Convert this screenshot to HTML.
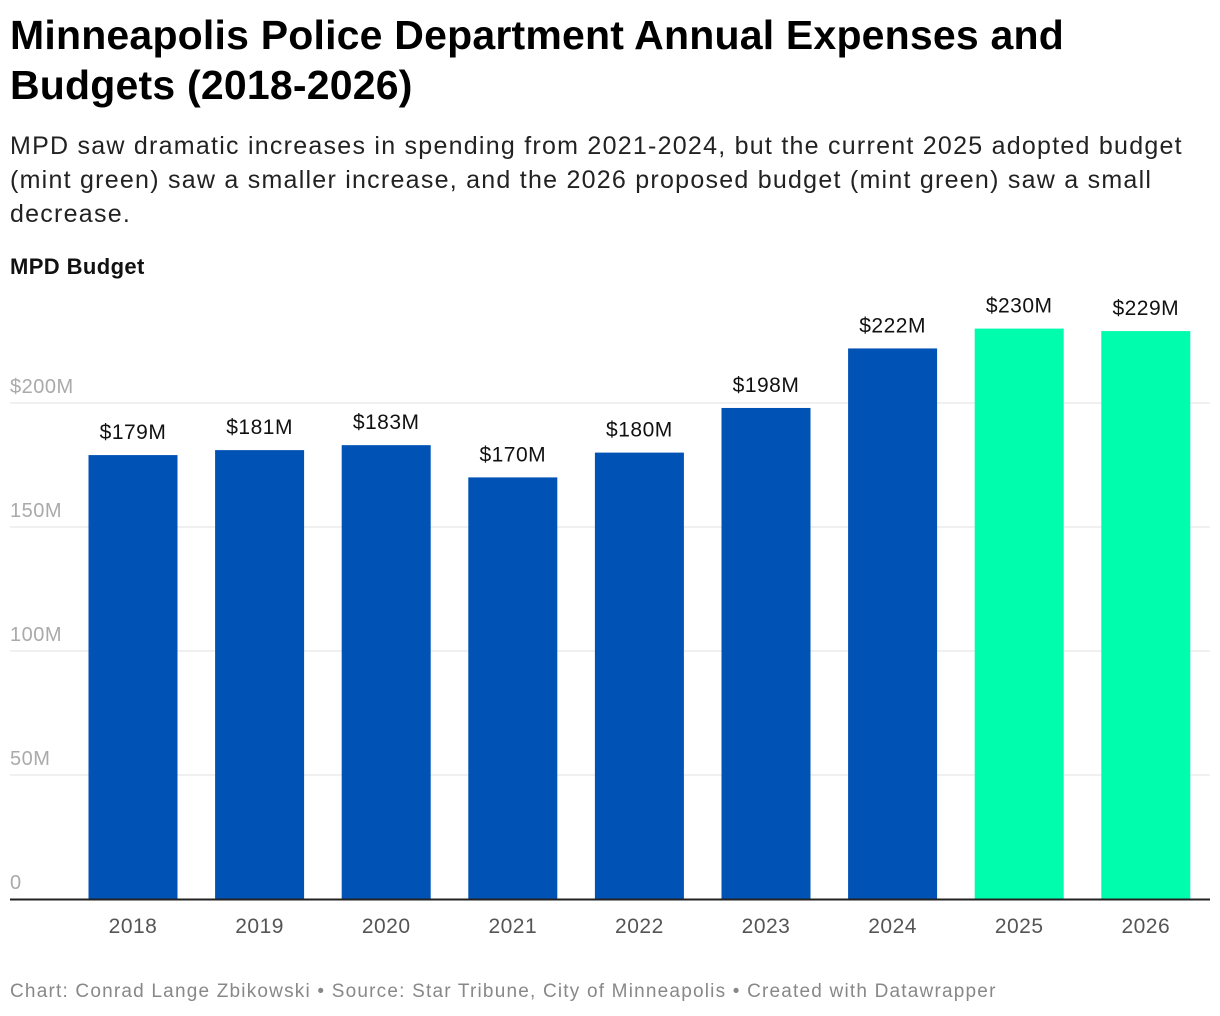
<!DOCTYPE html>
<html><head><meta charset="utf-8"><style>
body{margin:0;background:#fff;font-family:"Liberation Sans",Arial,sans-serif;width:1220px;height:1016px;overflow:hidden;position:relative}
.t{position:absolute;left:10px;margin:0;white-space:nowrap}
</style></head><body>
<h1 class="t" style="top:10px;font-size:41px;line-height:50px;font-weight:bold;color:#000;letter-spacing:0.2px">Minneapolis Police Department Annual Expenses and<br>Budgets (2018-2026)</h1>
<p class="t" style="top:129px;font-size:25px;line-height:34px;color:#222;letter-spacing:1.25px">MPD saw dramatic increases in spending from 2021-2024, but the current 2025 adopted budget<br>(mint green) saw a smaller increase, and the 2026 proposed budget (mint green) saw a small<br>decrease.</p>
<p class="t" style="top:254px;font-size:22px;font-weight:bold;color:#111;letter-spacing:0.4px">MPD Budget</p>
<svg id="chart" width="1220" height="960" style="position:absolute;left:0;top:0"></svg>
<p class="t" style="top:981px;font-size:19px;color:#888;letter-spacing:1.2px">Chart: Conrad Lange Zbikowski • Source: Star Tribune, City of Minneapolis • Created with Datawrapper</p>
<script>
const categories=["2018","2019","2020","2021","2022","2023","2024","2025","2026"];
const values=[179,181,183,170,180,198,222,230,229];
const valueLabels=["$179M","$181M","$183M","$170M","$180M","$198M","$222M","$230M","$229M"];
const highlight=[false,false,false,false,false,false,false,true,true];
const ticks=[0,50,100,150,200];
const tickLabels=["0","50M","100M","150M","$200M"];
const svg=document.getElementById('chart');
const NS="http://www.w3.org/2000/svg";
const y=v=>899-v*2.48;
const x=i=>133+i*126.6;
const bw=89;
function mk(tag,attrs,txt){const e=document.createElementNS(NS,tag);for(const k in attrs)e.setAttribute(k,attrs[k]);if(txt!==undefined)e.textContent=txt;svg.appendChild(e);return e;}
ticks.forEach((t,i)=>{
 if(t>0){const g=mk('line',{x1:10,x2:1210,y1:y(t),y2:y(t),stroke:'#e2e2e2','stroke-width':1});
 
 }
 const l=mk('text',{x:10,y:y(t)-10,'font-size':20,fill:'#aaa','font-family':'Liberation Sans, sans-serif','letter-spacing':0.5},tickLabels[i]);
 
 
});
categories.forEach((c,i)=>{
 const b=mk('rect',{x:x(i)-bw/2,y:y(values[i]),width:bw,height:y(0)-y(values[i]),fill:highlight[i]?'#00fdae':'#0052b4'});
 
 
 const v=mk('text',{x:x(i),y:y(values[i])-16,'font-size':21,fill:'#111','text-anchor':'middle','font-family':'Liberation Sans, sans-serif','letter-spacing':0.5},valueLabels[i]);
 
 
 const t=mk('text',{x:x(i),y:933,'font-size':21,fill:'#555','text-anchor':'middle','font-family':'Liberation Sans, sans-serif','letter-spacing':0.5},c);
 
 
});
const ax=mk('line',{x1:10,x2:1210,y1:899.5,y2:899.5,stroke:'#222','stroke-width':2});


</script>
</body></html>
